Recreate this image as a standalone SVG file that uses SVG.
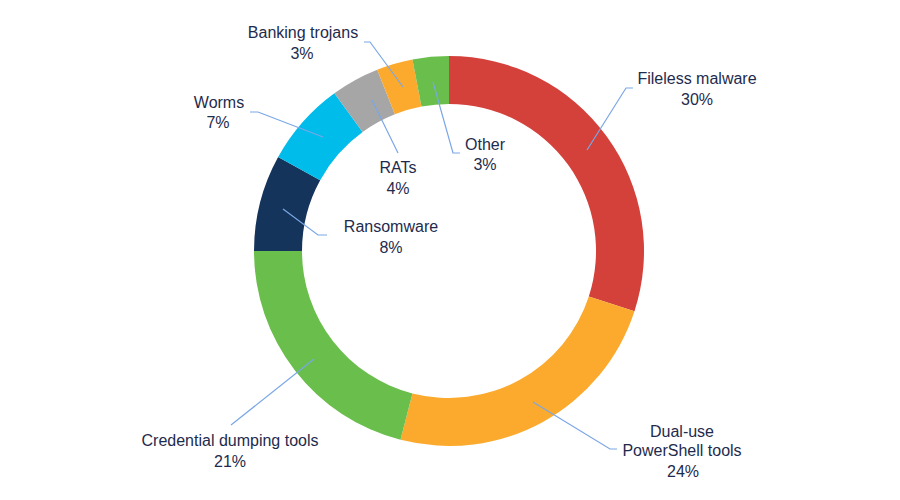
<svg xmlns="http://www.w3.org/2000/svg" width="900" height="500" viewBox="0 0 900 500">
<style>
.lbl{font-family:"Liberation Sans",Arial,sans-serif;font-size:16px;fill:#1E2B4D;text-anchor:middle}
.ld{fill:none;stroke:#7AA7E6;stroke-width:1.2}
</style>
<rect width="900" height="500" fill="#FFFFFF"/>
<g id="segments">
<path id="seg-fileless" fill="#D4403A" d="M449,56 A195,195 0 0 1 634.46,311.26 L588.81,296.43 A147,147 0 0 0 449,104 Z"/>
<path id="seg-dualuse" fill="#FBAA2D" d="M634.46,311.26 A195,195 0 0 1 400.51,439.87 L412.44,393.38 A147,147 0 0 0 588.81,296.43 Z"/>
<path id="seg-credential" fill="#6ABE4C" d="M400.51,439.87 A195,195 0 0 1 254,251 L302,251 A147,147 0 0 0 412.44,393.38 Z"/>
<path id="seg-ransomware" fill="#15345B" d="M254,251 A195,195 0 0 1 278.12,157.06 L320.18,180.18 A147,147 0 0 0 302,251 Z"/>
<path id="seg-worms" fill="#00BCEB" d="M278.12,157.06 A195,195 0 0 1 334.38,93.24 L362.59,132.07 A147,147 0 0 0 320.18,180.18 Z"/>
<path id="seg-rats" fill="#A6A6A6" d="M334.38,93.24 A195,195 0 0 1 377.22,69.69 L394.89,114.32 A147,147 0 0 0 362.59,132.07 Z"/>
<path id="seg-banking" fill="#FBAA2D" d="M377.22,69.69 A195,195 0 0 1 412.46,59.45 L421.46,106.60 A147,147 0 0 0 394.89,114.32 Z"/>
<path id="seg-other" fill="#6ABE4C" d="M412.46,59.45 A195,195 0 0 1 449,56 L449,104 A147,147 0 0 0 421.46,106.60 Z"/>
</g>
<g id="connectors">
<polyline class="ld" points="587,150 626,88 633,88"/>
<polyline class="ld" points="533,402 610,449 617,449"/>
<polyline class="ld" points="314,359 231,425"/>
<polyline class="ld" points="283,209 318,235 327,235"/>
<polyline class="ld" points="323,137 258,112 250,112"/>
<polyline class="ld" points="372,100 398,153"/>
<polyline class="ld" points="403,87 370,42 364,42"/>
<polyline class="ld" points="433,82 453,153 460,153"/>
</g>
<g id="label-fileless"><text class="lbl" x="697" y="84">Fileless malware</text><text class="lbl" x="697" y="105">30%</text></g>
<g id="label-dualuse"><text class="lbl" x="682" y="437">Dual-use</text><text class="lbl" x="682" y="456">PowerShell tools</text><text class="lbl" x="683" y="477">24%</text></g>
<g id="label-credential"><text class="lbl" x="230" y="446">Credential dumping tools</text><text class="lbl" x="230" y="467">21%</text></g>
<g id="label-ransomware"><text class="lbl" x="391" y="232">Ransomware</text><text class="lbl" x="391" y="253">8%</text></g>
<g id="label-worms"><text class="lbl" x="219" y="108">Worms</text><text class="lbl" x="218" y="128">7%</text></g>
<g id="label-rats"><text class="lbl" x="398" y="173">RATs</text><text class="lbl" x="398" y="194">4%</text></g>
<g id="label-banking"><text class="lbl" x="303" y="38">Banking trojans</text><text class="lbl" x="302" y="59">3%</text></g>
<g id="label-other"><text class="lbl" x="485" y="150">Other</text><text class="lbl" x="485" y="170">3%</text></g>
</svg>
